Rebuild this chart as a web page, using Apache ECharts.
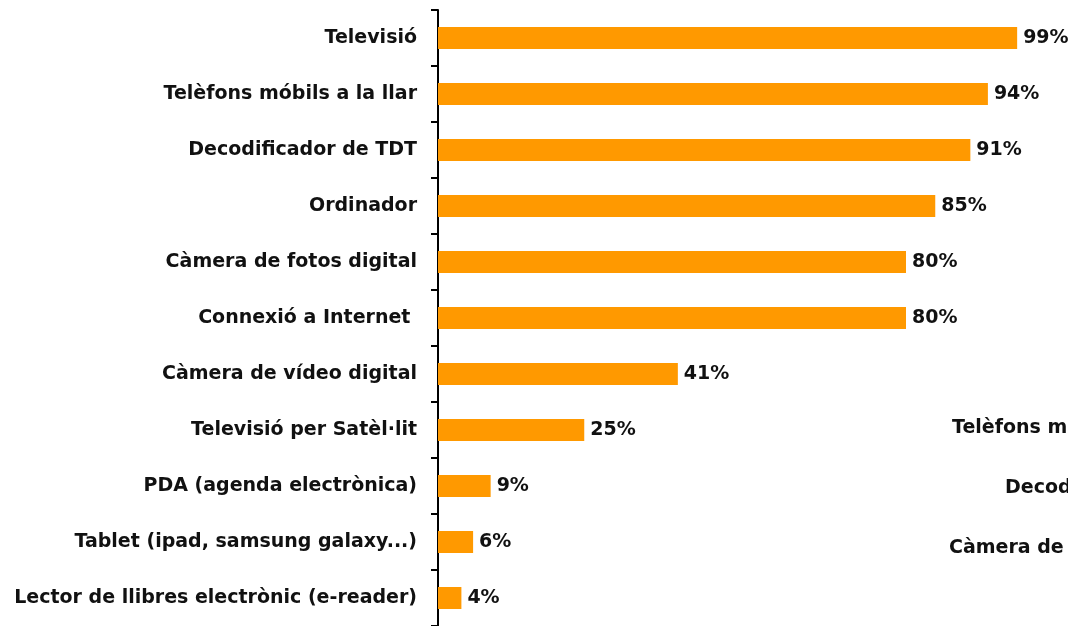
<!DOCTYPE html>
<html>
<head>
<meta charset="utf-8">
<script src="https://cdn.jsdelivr.net/npm/echarts@6/dist/echarts.min.js"></script>
<style>
html, body { margin: 0; padding: 0; background: #fff; }
#chart { width: 1068px; height: 626px; }
</style>
</head>
<body>
<div id="chart"></div>
<script>
// equipament de la llar (%)
var categories = [
    'Televisió',
    'Telèfons móbils a la llar',
    'Decodificador de TDT',
    'Ordinador',
    'Càmera de fotos digital',
    'Connexió a Internet ',
    'Càmera de vídeo digital',
    'Televisió per Satèl·lit',
    'PDA (agenda electrònica)',
    'Tablet (ipad, samsung galaxy...)',
    'Lector de llibres electrònic (e-reader)'
];
var values = [99, 94, 91, 85, 80, 80, 41, 25, 9, 6, 4];

// restes d'un altre gràfic, tallades a la vora
var clippedLabels = ['Telèfons mòbils a la llar', 'Decodificador de TDT', 'Càmera de fotos digital'];

var font = '"DejaVu Sans", sans-serif';

var myChart = echarts.init(document.getElementById('chart'));

var option = {
    animation: false,
    grid: { left: 438, right: 45, top: 10, bottom: -1, containLabel: false },
    xAxis: {
        type: 'value',
        min: 0,
        max: 100,
        show: false
    },
    yAxis: {
        type: 'category',
        data: categories,
        inverse: true,
        axisLine: { lineStyle: { color: '#000', width: 2 } },
        axisTick: { show: true, length: 7, lineStyle: { color: '#000', width: 2 } },
        axisLabel: {
            margin: 21,
            color: '#111',
            fontFamily: font,
            fontWeight: 'bold',
            fontSize: 19
        }
    },
    series: [{
        type: 'bar',
        data: values,
        barWidth: 22,
        itemStyle: { color: '#FF9900' },
        label: {
            show: true,
            position: 'right',
            distance: 6,
            formatter: '{c}%',
            color: '#111',
            fontFamily: font,
            fontWeight: 'bold',
            fontSize: 19
        }
    }],
    graphic: [
        { type: 'text', left: 952, top: 419, style: { text: clippedLabels[0], font: 'bold 19px ' + font, fill: '#111' } },
        { type: 'text', left: 1005, top: 479, style: { text: clippedLabels[1], font: 'bold 19px ' + font, fill: '#111' } },
        { type: 'text', left: 949, top: 539, style: { text: clippedLabels[2], font: 'bold 19px ' + font, fill: '#111' } }
    ]
};

myChart.setOption(option);
</script>
</body>
</html>
